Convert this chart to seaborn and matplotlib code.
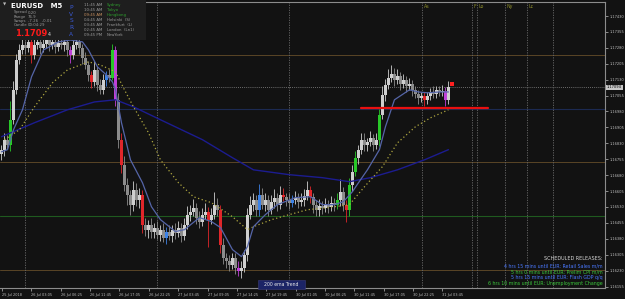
import numpy as np
import pandas as pd
import matplotlib
matplotlib.use("Agg")
import matplotlib.pyplot as plt
import seaborn as sns
from matplotlib.patches import Rectangle

# ---------------- data (EURUSD M5, one value per ~6.5 bars) ----------------
close = [1.16800, 1.16847, 1.16823, 1.16941, 1.17082, 1.17223, 1.17270, 1.17294, 1.17279, 1.17308,
         1.17247, 1.17294, 1.17308, 1.17279, 1.17298, 1.17317, 1.17294, 1.17308, 1.17284, 1.17303,
         1.17294, 1.17308, 1.17270, 1.17247, 1.17294, 1.17308, 1.17279, 1.17232, 1.17199, 1.17152,
         1.17119, 1.17176, 1.17105, 1.17082, 1.17129, 1.17152, 1.17138, 1.17270, 1.17035, 1.16847,
         1.16729, 1.16635, 1.16588, 1.16541, 1.16611, 1.16564, 1.16588, 1.16447, 1.16423, 1.16447,
         1.16414, 1.16433, 1.16399, 1.16423, 1.16385, 1.16414, 1.16395, 1.16423, 1.16409, 1.16433,
         1.16395, 1.16447, 1.16494, 1.16508, 1.16527, 1.16480, 1.16461, 1.16494, 1.16508, 1.16470,
         1.16494, 1.16541, 1.16517, 1.16353, 1.16291, 1.16273, 1.16258, 1.16291, 1.16244, 1.16226,
         1.16244, 1.16305, 1.16494, 1.16541, 1.16564, 1.16517, 1.16588, 1.16541, 1.16564, 1.16517,
         1.16555, 1.16574, 1.16541, 1.16588, 1.16578, 1.16564, 1.16550, 1.16564, 1.16574, 1.16555,
         1.16564, 1.16583, 1.16611, 1.16578, 1.16541, 1.16517, 1.16536, 1.16527, 1.16541, 1.16531,
         1.16550, 1.16541, 1.16564, 1.16602, 1.16541, 1.16517, 1.16635, 1.16696, 1.16762, 1.16800,
         1.16847, 1.16823, 1.16837, 1.16856, 1.16823, 1.16847, 1.16964, 1.17058, 1.17105, 1.17138,
         1.17157, 1.17129, 1.17148, 1.17110, 1.17129, 1.17101, 1.17110, 1.17082, 1.17063, 1.17044,
         1.17054, 1.17035, 1.17054, 1.17072, 1.17063, 1.17082, 1.17072, 1.17077, 1.17035, 1.17094]
first_open = 1.16780

# wick lengths in pips
up_wick = [2, 3, 2, 9, 4, 3, 3, 4, 2, 3,
           2, 3, 3, 2, 3, 4, 2, 3, 2, 3,
           3, 2, 2, 2, 4, 3, 2, 2, 3, 2,
           2, 4, 2, 3, 3, 2, 3, 3, 2, 3,
           3, 4, 3, 2, 4, 3, 3, 2, 3, 2,
           3, 2, 3, 2, 3, 2, 3, 2, 3, 3,
           2, 3, 4, 3, 4, 2, 3, 3, 4, 2,
           3, 6, 3, 2, 3, 2, 3, 2, 2, 3,
           3, 2, 3, 4, 3, 2, 5, 3, 3, 2,
           3, 4, 2, 4, 3, 2, 3, 2, 3, 2,
           3, 3, 4, 2, 2, 2, 3, 2, 3, 2,
           3, 2, 3, 6, 2, 2, 3, 3, 3, 2,
           3, 3, 2, 3, 2, 3, 3, 4, 3, 4,
           4, 3, 3, 2, 3, 2, 3, 2, 2, 2,
           2, 2, 2, 2, 3, 2, 2, 3, 2, 3]
dn_wick = [3, 3, 2, 3, 2, 2, 2, 2, 3, 2,
           4, 2, 2, 3, 2, 2, 3, 2, 3, 2,
           2, 3, 3, 4, 2, 2, 3, 3, 2, 3,
           3, 2, 3, 2, 2, 3, 2, 1, 3, 4,
           4, 3, 5, 5, 3, 3, 4, 4, 3, 4,
           3, 3, 2, 3, 2, 3, 2, 3, 3, 2,
           3, 2, 2, 3, 2, 3, 3, 2, 2, 13,
           2, 2, 3, 4, 3, 3, 3, 2, 3, 2,
           3, 2, 3, 2, 3, 3, 3, 2, 3, 3,
           2, 3, 3, 2, 2, 3, 3, 2, 2, 3,
           2, 3, 2, 3, 4, 3, 3, 3, 2, 3,
           2, 3, 2, 3, 3, 6, 3, 3, 2, 3,
           2, 3, 3, 2, 3, 2, 3, 2, 3, 2,
           2, 3, 2, 3, 2, 3, 2, 3, 2, 3,
           2, 3, 2, 2, 2, 2, 2, 2, 3, 2]
pip = 0.0001

# PVSRA coloured candles
red_bars = [10, 30, 40, 47, 69, 73, 94, 103, 115, 141]
green_bars = [3, 37, 112, 116, 118, 126]
blue_bars = [35, 55, 86, 97]
magenta_bars = [23, 38, 79, 148]

# moving averages (candle index, price)
fast_idx = [0, 2, 4, 7, 10, 14, 19, 23, 27, 29, 32, 35, 37, 38, 40, 43, 47, 50, 53, 58, 61, 66,
            70, 73, 77, 80, 82, 84, 88, 92, 98, 103, 107, 111, 114, 117, 119, 122, 126, 128,
            131, 136, 139, 142, 146, 149]
fast_val = [1.16790, 1.16800, 1.16894, 1.16988, 1.17143, 1.17270, 1.17308, 1.17317, 1.17308,
            1.17270, 1.17190, 1.17152, 1.17119, 1.17082, 1.16927, 1.16752, 1.16644, 1.16531,
            1.16470, 1.16414, 1.16423, 1.16480, 1.16461, 1.16433, 1.16329, 1.16296, 1.16343,
            1.16437, 1.16494, 1.16541, 1.16574, 1.16578, 1.16541, 1.16541, 1.16555, 1.16602,
            1.16644, 1.16705, 1.16800, 1.16908, 1.17035, 1.17082, 1.17072, 1.17068, 1.17072,
            1.17072]
slow_idx = [1, 6, 11, 17, 22, 29, 33, 38, 41, 44, 49, 53, 59, 64, 70, 77, 82, 84, 90, 96, 102,
            109, 116, 121, 127, 132, 138, 143, 149]
slow_val = [1.16847, 1.16894, 1.17002, 1.17115, 1.17176, 1.17214, 1.17199, 1.17167, 1.17082,
            1.17002, 1.16880, 1.16752, 1.16644, 1.16578, 1.16550, 1.16484, 1.16423, 1.16437,
            1.16470, 1.16494, 1.16517, 1.16527, 1.16541, 1.16625, 1.16720, 1.16832, 1.16908,
            1.16950, 1.16988]
ema200_idx = [0, 11, 22, 31, 38, 44, 53, 67, 77, 84, 96, 107, 116, 123, 132, 141, 149]
ema200_val = [1.16861, 1.16927, 1.16988, 1.17025, 1.17035, 1.17002, 1.16941, 1.16847, 1.16762,
              1.16705, 1.16682, 1.16668, 1.16649, 1.16668, 1.16705, 1.16752, 1.16800]

# horizontal levels
bid = 1.17094
level_brown = [1.17247, 1.16743, 1.16235]
level_blue = 1.16992
level_green = 1.16489
red_level = 1.16997
red_level_span = (120.0, 162.2)

# vertical separators (candle index)
day_sep = [7.8, 51.8, 95.8]
sessions = ["As", "F", "Lo", "Ny", "Lc", ""]
session_pos = [140.2, 156.8, 158.5, 167.8, 175.2, 183.8]

tick_labels = ["25 Jul 2018", "26 Jul 03:05", "26 Jul 06:25", "26 Jul 11:45", "26 Jul 17:05",
               "26 Jul 22:25", "27 Jul 03:45", "27 Jul 09:05", "27 Jul 14:25", "27 Jul 19:45",
               "30 Jul 01:05", "30 Jul 06:25", "30 Jul 11:45", "30 Jul 17:05", "30 Jul 22:25",
               "31 Jul 03:45"]
label_step = 9.79   # 64 M5 bars expressed in candle units
y_ticks_top = 1.17430
y_tick_step = 0.00075

info_rows = [("Spread", "0.20"), ("Range", "76.9"), ("Swaps", "-7.26   -0.01"), ("Candle", "00:04:29")]
session_times = ["11:45 AM", "10:45 AM", "09:45 AM", "04:45 AM", "03:45 AM", "02:45 AM", "09:45 PM"]
session_names = ["Sydney", "Tokyo", "Hongkong", "Helsinki  (S)", "Frankfurt  (L)", "London  (Ln1)", "NewYork"]
releases = ["4 hrs 15 mins until EUR: Retail Sales m/m",
            "5 hrs 0 mins until EUR: Prelim CPI m/m",
            "5 hrs 15 mins until EUR: Flash GDP q/q",
            "6 hrs 10 mins until EUR: Unemployment Change"]

# ---------------- build frame ----------------
n = len(close)
df = pd.DataFrame({"idx": np.arange(n), "close": close})
df["open"] = [first_open] + close[:-1]
df["high"] = df[["open", "close"]].max(axis=1) + np.array(up_wick) * pip
df["low"] = df[["open", "close"]].min(axis=1) - np.array(dn_wick) * pip

BG = "#121212"
sns.set_style("dark", {"axes.facecolor": BG, "figure.facecolor": BG})
plt.rcParams["font.family"] = ["DejaVu Sans"]

W, H = 625, 299
fig = plt.figure(figsize=(W / 100, H / 100), dpi=100)
fig.patch.set_facecolor(BG)
ax = fig.add_axes([0, 11 / H, 605 / W, 286 / H])
ax.set_facecolor(BG)
ax.set_xlim(-0.5, 201.2)
ax.set_ylim(1.16148, 1.17496)


def px(x, y):
    return x / W, 1 - y / H


# levels
for lv in level_brown:
    ax.axhline(lv, color="#5a4526", lw=0.7, zorder=1)
ax.axhline(level_blue, color="#1c2a52", lw=0.8, zorder=1)
ax.axhline(level_green, color="#1f5a1f", lw=0.8, zorder=1)
ax.axhline(bid, color="#8a8a8a", lw=0.6, ls=(0, (1, 1.5)), zorder=1)
for d in day_sep:
    ax.axvline(d, color="#6a6a6a", lw=0.6, ls=(0, (1.5, 1.5)), zorder=1)
for name, p in zip(sessions, session_pos):
    ax.axvline(p, color="#6a6a6a", lw=0.6, ls=(0, (1.5, 1.5)), zorder=1)
    if name:
        ax.text(p + 0.5, 1.17475, name, color="#8c8c2a", fontsize=3.4, va="center", ha="left")

# candles
bull_c, bear_c = "#cfcfcf", "#8c8c8c"
colors = [bull_c if c >= o else bear_c for o, c in zip(df["open"], df["close"])]
for lst, col in ((red_bars, "#e0262a"), (green_bars, "#28c828"), (blue_bars, "#3c82e6"), (magenta_bars, "#c040d8")):
    for i in lst:
        colors[i] = col
ax.vlines(df["idx"], df["low"], df["high"], colors=colors, lw=0.6, zorder=2)
ax.bar(df["idx"], (df["close"] - df["open"]).abs().clip(lower=0.00002),
       bottom=df[["open", "close"]].min(axis=1), width=0.75, color=colors, linewidth=0, zorder=2)

# moving averages
sns.lineplot(x=ema200_idx, y=ema200_val, ax=ax, color="#1c1c90", lw=1.0, zorder=3)
sns.lineplot(x=slow_idx, y=slow_val, ax=ax, color="#b0a840", lw=0.9, ls=(0, (1, 2)), zorder=3)
sns.lineplot(x=fast_idx, y=fast_val, ax=ax, color="#5565a8", lw=0.9, zorder=3)

# red level line and marker
ax.plot(list(red_level_span), [red_level, red_level], color="#e81010", lw=1.6, zorder=4)
ax.scatter([150.3], [1.17110], marker="s", s=5, color="#ff2020", zorder=5, linewidths=0)

# axes styling
ax.spines["left"].set_visible(False)
for s in ["top", "right", "bottom"]:
    ax.spines[s].set_color("#8c8c8c")
    ax.spines[s].set_linewidth(0.8)
ax.yaxis.tick_right()
yt = np.arange(y_ticks_top, 1.1615, -y_tick_step)
ax.set_yticks(yt)
ax.set_yticklabels([f"{v:.5f}" for v in yt])
ax.tick_params(axis="y", colors="#bdbdbd", labelsize=2.6, length=2, width=0.5, pad=1.2, right=True)
xt = [0.17 + k * label_step for k in range(len(tick_labels))]
ax.set_xticks(xt)
ax.set_xticklabels(tick_labels, ha="left")
ax.tick_params(axis="x", colors="#bdbdbd", labelsize=2.5, length=2, width=0.5, pad=1.5, bottom=True)
ax.set_xlabel("")
ax.set_ylabel("")
ax.grid(False)

# current price tag
ax.annotate(f"{bid:.5f}", xy=(1.0, bid), xycoords=("axes fraction", "data"), xytext=(1.5, 0),
            textcoords="offset points", fontsize=2.6, color="#000000", va="center", ha="left",
            bbox=dict(boxstyle="square,pad=0.2", fc="#c8c8c8", ec="none"), annotation_clip=False)

# info box top-left
fig.patches.append(Rectangle(px(0, 40), 146 / W, 40 / H, transform=fig.transFigure,
                             facecolor="#1e1e1e", edgecolor="none", zorder=5))
fig.text(*px(2.5, 5), "\u25bc", color="#bbbbbb", fontsize=3, va="center", zorder=6)
fig.text(*px(11, 6.5), "EURUSD   M5", color="#ffffff", fontsize=5.0, fontweight="bold", va="center", zorder=6)
for k, (a, b) in enumerate(info_rows):
    y = 12.5 + 4.2 * k
    fig.text(*px(14, y), a, color="#9a9a9a", fontsize=2.8, va="center", zorder=6)
    fig.text(*px(28, y), b, color="#9a9a9a", fontsize=2.8, va="center", zorder=6)
fig.text(*px(15, 34), "1.1709", color="#ff1a1a", fontsize=6.0, fontweight="bold", va="center", zorder=6)
fig.text(*px(47.5, 35), "4", color="#dddddd", fontsize=3.4, va="center", zorder=6)
for k, ch in enumerate("PVSRA"):
    fig.text(*px(71, 7.5 + 6.7 * k), ch, color="#3a5ad8", fontsize=4.2, ha="center", va="center", zorder=6)
name_cols = ["#2ea02e", "#2ea02e", "#2ea02e", "#9a9a9a", "#9a9a9a", "#9a9a9a", "#9a9a9a"]
time_cols = ["#9a9a9a", "#9a9a9a", "#c89060", "#9a9a9a", "#9a9a9a", "#9a9a9a", "#9a9a9a"]
for k, (t, nm) in enumerate(zip(session_times, session_names)):
    y = 5 + 5.05 * k
    fig.text(*px(84, y), t, color=time_cols[k], fontsize=2.8, va="center", zorder=6)
    fig.text(*px(107, y), nm, color=name_cols[k], fontsize=2.8, va="center", zorder=6)

# 200 ema label
fig.patches.append(Rectangle(px(258, 289), 47 / W, 9 / H, transform=fig.transFigure,
                             facecolor="#1c2466", edgecolor="#3a3a7a", lw=0.4, zorder=5))
fig.text(*px(281.5, 284.5), "200 ema Trend", color="#e8e8e8", fontsize=3.3, ha="center", va="center", zorder=6)

# scheduled releases
fig.text(*px(603, 258.5), "SCHEDULED RELEASES:", color="#d8d8d8", fontsize=3.5, ha="right", va="center", zorder=6)
rel_cols = ["#4a78ff", "#3cc83c", "#4a78ff", "#3cc83c"]
for k, (t, c) in enumerate(zip(releases, rel_cols)):
    fig.text(*px(603, 265.5 + 6 * k), t, color=c, fontsize=3.4, ha="right", va="center", zorder=6)

fig.savefig("out.png", dpi=100, facecolor=BG)
